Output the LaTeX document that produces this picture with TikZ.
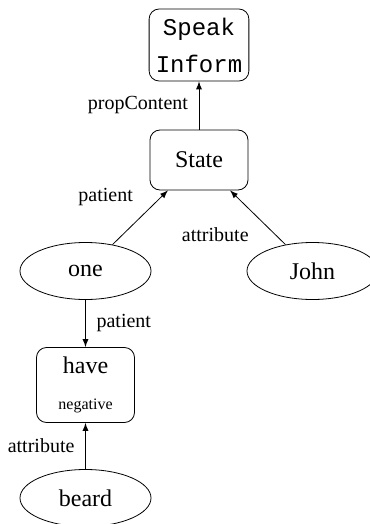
\documentclass[tikz,border=0pt]{standalone}
\usepackage{fontspec}
\setmainfont{Liberation Serif}
\setmonofont{Liberation Mono}
\usetikzlibrary{trees,shapes.geometric}

\begin{document}
\begin{tikzpicture}[>=latex,
    level 1/.style={level distance=57.5pt},
    level 2/.style={level distance=55.5pt, sibling distance=113.5pt},
    level 3/.style={level distance=57pt},
    level 4/.style={level distance=56.5pt},
    edge from parent/.style={draw=none},
    concept/.style={draw, rounded corners=5pt, minimum width=49pt, align=center, font=\large},
    entity/.style={draw, ellipse, minimum width=65.5pt, minimum height=28.5pt, font=\large}]
  \useasboundingbox (-99.5pt,22.5pt) rectangle ++(184.5pt,-262pt);
  \node[concept, minimum height=36pt, font=\ttfamily\fontsize{12}{18.5}\selectfont] (speak) {Speak\\Inform}
  child {
    node[concept, minimum height=30pt] (state) {State}
    child {
      node[entity] (one) {one}
      child {
        node[concept, minimum height=37.5pt] (have) {have\\[4pt]{\footnotesize negative}}
        child { node[entity] (beard) {beard} }
      }
    }
    child { node[entity] (john) {John} }
  };
  \draw[->] (state) -- (speak) node[midway, left=2pt] {propContent};
  \draw[->] (one) -- (state) node[midway, xshift=-17.25pt, yshift=10.25pt] {patient};
  \draw[->] (john) -- (state) node[midway, xshift=-21.25pt, yshift=-8.75pt] {attribute};
  \draw[->] (one) -- (have) node[midway, right=2pt] {patient};
  \draw[->] (beard) -- (have) node[midway, left=2pt] {attribute};
\end{tikzpicture}
\end{document}
